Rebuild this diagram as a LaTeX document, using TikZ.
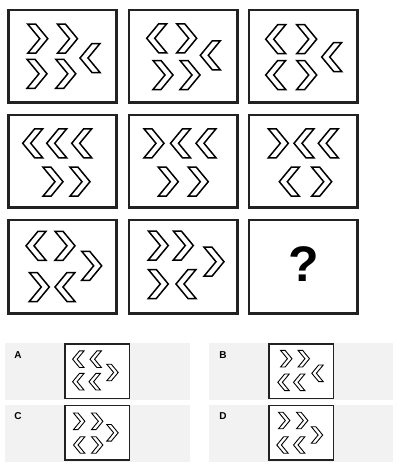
\documentclass[tikz,border=0pt]{standalone}
\usepackage{fontspec}
\setmainfont{Liberation Sans}
\definecolor{panel}{HTML}{F2F2F2}
\definecolor{frame}{HTML}{222222}
\usepackage{tikz}
% chevrons: [scale]{x}{y}
\newcommand{\rchev}[3][1]{\draw[chev,shift={(#2,#3)},scale=#1] (-10,-14.5) -- (-2,-14.5) -- (10,0) -- (-2,14.5) -- (-10,14.5) -- (2,0) -- cycle ;}
\newcommand{\lchev}[3][1]{\draw[chev,shift={(#2,#3)},scale=#1] (10,-14.5) -- (2,-14.5) -- (-10,0) -- (2,14.5) -- (10,14.5) -- (-2,0) -- cycle ;}

\begin{document}
\begin{tikzpicture}[x=1pt, y=-1pt,
  chev/.style={black, fill=white, line width=1.5pt, line join=miter},
  bigbox/.style={frame, fill=white, line width=2.5pt},
  smallbox/.style={frame, fill=white, line width=1.3pt},
  optlabel/.style={font=\bfseries\fontsize{10}{10}\selectfont}]
\useasboundingbox (0,0) rectangle (402,471) ;
\fill[white] (0,0) rectangle (402,471) ;
%% row 1
\draw[bigbox] (8.3,10) rectangle (116.7,102.7) ;
\rchev{37.8}{38.7} \rchev{67.5}{38.7} \lchev{90}{58}
\rchev{37}{73.8} \rchev{65.8}{73.8}
\draw[bigbox] (129,10) rectangle (237.3,102.7) ;
\lchev{156.7}{38.3} \rchev{186.7}{38.3} \lchev{210.3}{55.3}
\rchev{163}{75} \rchev{190}{75}
\draw[bigbox] (249,10) rectangle (357.7,102.7) ;
\lchev{275.7}{39.2} \rchev{306.7}{39.2} \lchev{331.7}{57}
\lchev{275.7}{75} \rchev{306.7}{75}
%% row 2
\draw[bigbox] (8.3,115) rectangle (116.7,207.7) ;
\lchev{32.7}{143.3} \lchev{56.7}{143.3} \lchev{81.7}{143.3}
\rchev{53}{181.7} \rchev{80}{181.7}
\draw[bigbox] (129,115) rectangle (237.3,207.7) ;
\rchev{154}{143.3} \lchev{180.5}{143.3} \lchev{206}{143.3}
\rchev{168.3}{181.7} \rchev{198.3}{181.7}
\draw[bigbox] (249,115) rectangle (357.7,207.7) ;
\rchev{278.3}{143.3} \lchev{304}{143.3} \lchev{328.3}{143.3}
\lchev{289.3}{181.7} \rchev{321.7}{181.7}
%% row 3
\draw[bigbox] (8.3,220) rectangle (116.7,313.3) ;
\lchev{36}{245.8} \rchev{65}{245.8} \rchev{91.7}{265.8}
\rchev{39.3}{287} \lchev{65}{287}
\draw[bigbox] (129,220) rectangle (237.3,313.3) ;
\rchev{158.3}{245.5} \rchev{183.3}{245.5} \rchev{214}{261.7}
\rchev{158.3}{284} \lchev{186}{284}
\draw[bigbox] (249,220) rectangle (357.7,313.3) ;
\node (qmark) at (303.3,264) {\bfseries\fontsize{50}{50}\selectfont ?} ;
%% answers
\begin{scope}[chev/.append style={line width=0.9pt}]
\fill[panel] (5,343.3) rectangle (190,400) ;
\fill[panel] (209,343.3) rectangle (393,400) ;
\fill[panel] (5,405) rectangle (190,461.7) ;
\fill[panel] (209,405) rectangle (393,461.7) ;
\node[optlabel] (la) at (18,355) {A} ;
\node[optlabel] (lb) at (223,355) {B} ;
\node[optlabel] (lc) at (18,416) {C} ;
\node[optlabel] (ld) at (223,416) {D} ;
% A
\draw[smallbox] (65,344) rectangle (129.5,398.3) ;
\lchev[0.57]{78.3}{359.2} \lchev[0.57]{95.7}{359.2} \rchev[0.57]{112.5}{372.5}
\lchev[0.57]{78.3}{381.7} \lchev[0.57]{94.7}{381.7}
% B
\draw[smallbox] (269,344) rectangle (333.3,398.3) ;
\rchev[0.57]{286.3}{358.7} \rchev[0.57]{303.8}{358.7} \lchev[0.57]{317.5}{373.3}
\lchev[0.57]{283.5}{382.3} \lchev[0.57]{299.2}{382.3}
% C
\draw[smallbox] (65,405.7) rectangle (129.5,460) ;
\rchev[0.57]{79.2}{421.3} \rchev[0.57]{97.2}{421.3} \rchev[0.57]{112.5}{432.8}
\lchev[0.57]{79.2}{445} \rchev[0.57]{97.2}{445}
% D
\draw[smallbox] (269,405.7) rectangle (333.3,460) ;
\rchev[0.57]{284.2}{420.5} \rchev[0.57]{302.2}{420.5} \rchev[0.57]{317}{435}
\lchev[0.57]{282.5}{445} \lchev[0.57]{299.2}{445}
\end{scope}
\end{tikzpicture}
\end{document}
